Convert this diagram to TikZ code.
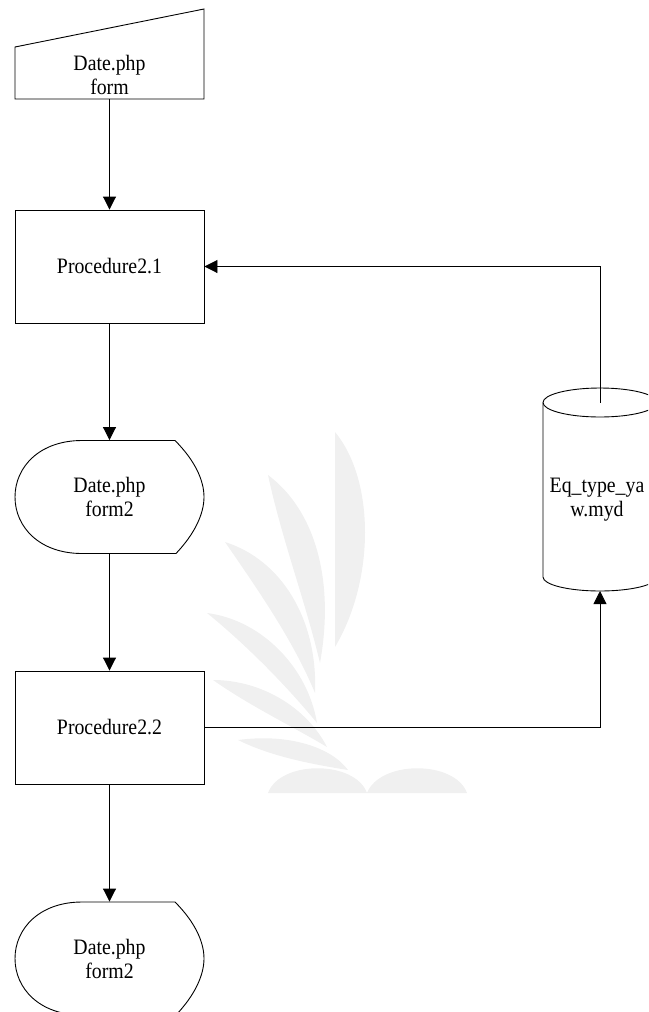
\documentclass[tikz,border=0pt]{standalone}
\usepackage{fontspec}
\setmainfont{Liberation Serif}[FakeStretch=0.9]
\usetikzlibrary{arrows.meta}
\begin{document}
\begin{tikzpicture}[x=1pt,y=-1pt,
  line width=0.9pt,
  txt/.style={align=center,inner sep=0pt,font=\fontsize{22}{24}\selectfont},
  procbox/.style={draw,txt,minimum width=189pt,minimum height=113pt},
  dispbox/.style={txt,minimum width=189pt,minimum height=113pt},
  arr/.style={-{Triangle[length=13pt,width=13pt]}},
  wm/.style={fill=black!6,draw=none},
  displayshape/.pic={
    \draw (-27.5,-56.5) -- (65.5,-56.5)
      .. controls (85,-37) and (94.5,-17) .. (94.5,0)
      .. controls (94.5,17) and (85,37) .. (66.5,56.5)
      -- (-27.5,56.5)
      .. controls (-70,56.5) and (-94.5,30) .. (-94.5,0)
      .. controls (-94.5,-30) and (-70,-56.5) .. cycle;
  }]
\useasboundingbox (0,0) rectangle (648,1012);
\clip (0,0) rectangle (648,1012);
% watermark
\fill[wm] (335,432) .. controls (375,480) and (375,580) .. (335,647) -- cycle;
\fill[wm] (268,475) .. controls (315,510) and (335,580) .. (320,663) .. controls (305,600) and (282,540) .. cycle;
\fill[wm] (225,542) .. controls (282,560) and (318,620) .. (315,693) .. controls (293,640) and (258,590) .. cycle;
\fill[wm] (207,613) .. controls (262,620) and (308,668) .. (317,723) .. controls (290,690) and (250,648) .. cycle;
\fill[wm] (213,680) .. controls (262,680) and (307,708) .. (327,747) .. controls (290,725) and (250,706) .. cycle;
\fill[wm] (238,740) .. controls (290,733) and (332,748) .. (348,770) .. controls (310,764) and (270,756) .. cycle;
\fill[wm] (268,793) .. controls (280,760) and (355,760) .. (367,793) -- cycle;
\fill[wm] (367,793) .. controls (380,760) and (455,760) .. (467,793) -- cycle;
% manual input
\draw (15,47) -- (204,9) -- (204,99) -- (15,99) -- cycle;
\node[txt] (mi) at (109.5,75) {Date.php\\form};
\coordinate (mib) at (109.5,99);
% procedures
\node[procbox] (p1) at (109.5,266.5) {Procedure2.1};
\node[procbox] (p2) at (109.5,727.5) {Procedure2.2};
% displays
\pic at (109.5,497) {displayshape};
\node[dispbox] (d1) at (109.5,497) {Date.php\\form2};
\pic at (109.5,958.5) {displayshape};
\node[dispbox] (d2) at (109.5,958.5) {Date.php\\form2};
% database cylinder
\draw (543,402.5) -- (543,577) arc[start angle=180,end angle=360,x radius=57pt,y radius=14pt] -- (657,402.5);
\draw (600,402.5) ellipse [x radius=57pt,y radius=14.5pt];
\node[txt] (db) at (597,500) {Eq\_type\_ya\\w.myd};
\coordinate (cylT) at (600,402.5);
\coordinate (cylB) at (600,591);
% connectors
\draw[arr] (mib) -- (p1.north);
\draw[arr] (p1.south) -- (d1.north);
\draw[arr] (d1.south) -- (p2.north);
\draw[arr] (p2.south) -- (d2.north);
\draw[arr] (p2.east) -| (cylB);
\draw[arr] (cylT) |- (p1.east);
\end{tikzpicture}
\end{document}
